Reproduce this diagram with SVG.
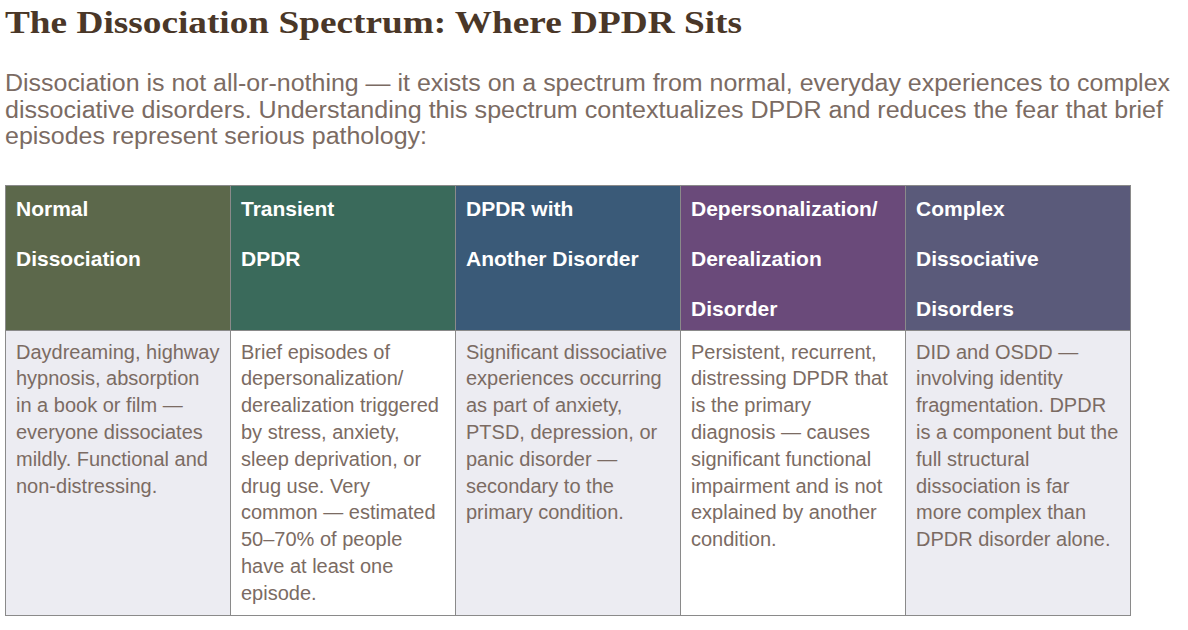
<svg xmlns="http://www.w3.org/2000/svg" width="1188" height="630" viewBox="0 0 1188 630">
<style>
.title{font-family:Georgia,"Liberation Serif","DejaVu Serif",serif;font-weight:bold;font-size:32px;fill:#4a3728}
.intro{font-family:"Liberation Sans",Arial,Helvetica,sans-serif;font-size:23px;fill:#7b6b63}
.hd{font-family:"Liberation Sans",Arial,Helvetica,sans-serif;font-weight:bold;font-size:21px;fill:#ffffff}
.bd{font-family:"Liberation Sans",Arial,Helvetica,sans-serif;font-size:20px;fill:#7b6b63}
.cell{stroke:#8a8a8a;stroke-width:1}
</style>
<rect x="0" y="0" width="1188" height="630" fill="#ffffff"/>
<text class="title" x="5" y="33" textLength="737" lengthAdjust="spacingAndGlyphs">The Dissociation Spectrum: Where DPDR Sits</text>
<g id="intro">
<text class="intro" x="5" y="91" textLength="1165" lengthAdjust="spacingAndGlyphs">Dissociation is not all-or-nothing — it exists on a spectrum from normal, everyday experiences to complex</text>
<text class="intro" x="5" y="117.5" textLength="1158" lengthAdjust="spacingAndGlyphs">dissociative disorders. Understanding this spectrum contextualizes DPDR and reduces the fear that brief</text>
<text class="intro" x="5" y="144" textLength="422" lengthAdjust="spacingAndGlyphs">episodes represent serious pathology:</text>
</g>
<g id="col-normal">
<rect class="cell" x="5.5" y="185.5" width="225" height="145" style="fill:#5c684b"/>
<rect class="cell" x="5.5" y="330.5" width="225" height="285" style="fill:#ececf2"/>
<text class="hd" x="16" y="215.5">Normal</text>
<text class="hd" x="16" y="265.5">Dissociation</text>
<text class="bd"><tspan x="16" y="358.5">Daydreaming, highway</tspan><tspan x="16" y="385.3">hypnosis, absorption</tspan><tspan x="16" y="412.1">in a book or film —</tspan><tspan x="16" y="438.9">everyone dissociates</tspan><tspan x="16" y="465.7">mildly. Functional and</tspan><tspan x="16" y="492.5">non-distressing.</tspan></text>
</g>
<g id="col-transient">
<rect class="cell" x="230.5" y="185.5" width="225" height="145" style="fill:#3a6a5b"/>
<rect class="cell" x="230.5" y="330.5" width="225" height="285" style="fill:#ffffff"/>
<text class="hd" x="241" y="215.5">Transient</text>
<text class="hd" x="241" y="265.5">DPDR</text>
<text class="bd"><tspan x="241" y="358.5">Brief episodes of</tspan><tspan x="241" y="385.3">depersonalization/</tspan><tspan x="241" y="412.1">derealization triggered</tspan><tspan x="241" y="438.9">by stress, anxiety,</tspan><tspan x="241" y="465.7">sleep deprivation, or</tspan><tspan x="241" y="492.5">drug use. Very</tspan><tspan x="241" y="519.3">common — estimated</tspan><tspan x="241" y="546.1">50–70% of people</tspan><tspan x="241" y="572.9">have at least one</tspan><tspan x="241" y="599.7">episode.</tspan></text>
</g>
<g id="col-dpdr-other">
<rect class="cell" x="455.5" y="185.5" width="225" height="145" style="fill:#3a5a78"/>
<rect class="cell" x="455.5" y="330.5" width="225" height="285" style="fill:#ececf2"/>
<text class="hd" x="466" y="215.5">DPDR with</text>
<text class="hd" x="466" y="265.5">Another Disorder</text>
<text class="bd"><tspan x="466" y="358.5">Significant dissociative</tspan><tspan x="466" y="385.3">experiences occurring</tspan><tspan x="466" y="412.1">as part of anxiety,</tspan><tspan x="466" y="438.9">PTSD, depression, or</tspan><tspan x="466" y="465.7">panic disorder —</tspan><tspan x="466" y="492.5">secondary to the</tspan><tspan x="466" y="519.3">primary condition.</tspan></text>
</g>
<g id="col-dpdr-disorder">
<rect class="cell" x="680.5" y="185.5" width="225" height="145" style="fill:#6a4a7a"/>
<rect class="cell" x="680.5" y="330.5" width="225" height="285" style="fill:#ffffff"/>
<text class="hd" x="691" y="215.5">Depersonalization/</text>
<text class="hd" x="691" y="265.5">Derealization</text>
<text class="hd" x="691" y="315.5">Disorder</text>
<text class="bd"><tspan x="691" y="358.5">Persistent, recurrent,</tspan><tspan x="691" y="385.3">distressing DPDR that</tspan><tspan x="691" y="412.1">is the primary</tspan><tspan x="691" y="438.9">diagnosis — causes</tspan><tspan x="691" y="465.7">significant functional</tspan><tspan x="691" y="492.5">impairment and is not</tspan><tspan x="691" y="519.3">explained by another</tspan><tspan x="691" y="546.1">condition.</tspan></text>
</g>
<g id="col-complex">
<rect class="cell" x="905.5" y="185.5" width="225" height="145" style="fill:#5a5a7a"/>
<rect class="cell" x="905.5" y="330.5" width="225" height="285" style="fill:#ececf2"/>
<text class="hd" x="916" y="215.5">Complex</text>
<text class="hd" x="916" y="265.5">Dissociative</text>
<text class="hd" x="916" y="315.5">Disorders</text>
<text class="bd"><tspan x="916" y="358.5">DID and OSDD —</tspan><tspan x="916" y="385.3">involving identity</tspan><tspan x="916" y="412.1">fragmentation. DPDR</tspan><tspan x="916" y="438.9">is a component but the</tspan><tspan x="916" y="465.7">full structural</tspan><tspan x="916" y="492.5">dissociation is far</tspan><tspan x="916" y="519.3">more complex than</tspan><tspan x="916" y="546.1">DPDR disorder alone.</tspan></text>
</g>
<g id="connectors"></g>
</svg>
